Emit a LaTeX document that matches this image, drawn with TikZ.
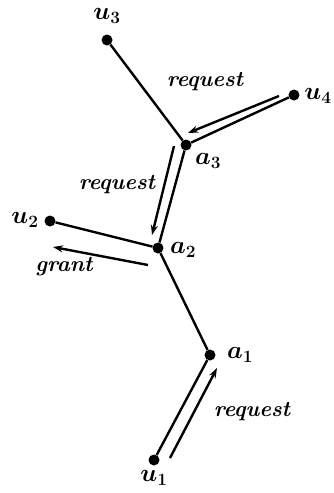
\documentclass[tikz,border=0pt]{standalone}
\usetikzlibrary{arrows.meta}
\begin{document}
\begin{tikzpicture}[x=1pt,y=-1pt,
  dot/.style={circle,fill=black,inner sep=0pt,minimum size=11pt},
  edge/.style={line width=2.4pt},
  msg/.style={line width=2.4pt,-{Stealth[length=10pt,width=7pt]}},
  lbl/.style={font=\fontsize{22}{24}\selectfont\bfseries\itshape},
  vl/.style={font=\fontsize{26}{28}\selectfont\boldmath}]
\useasboundingbox (0,0) rectangle (333,493);
\node[dot] (u3) at (107,40) {};
\node[dot] (u4) at (294,95) {};
\node[dot] (a3) at (186,145) {};
\node[dot] (u2) at (50,221) {};
\node[dot] (a2) at (158,248) {};
\node[dot] (a1) at (210,355) {};
\node[dot] (u1) at (154,460) {};
\draw[edge] (u3) -- (a3);
\draw[edge] (u4) -- (a3);
\draw[edge] (a3) -- (a2);
\draw[edge] (u2) -- (a2);
\draw[edge] (a2) -- (a1);
\draw[edge] (a1) -- (u1);
\node[vl] (lu3) at (107,16) {$u_3$};
\node[vl,inner xsep=0pt] (lu4) at (318,96) {$u_4$};
\node[vl] (la3) at (208,161) {$a_3$};
\node[vl] (lu2) at (25,220) {$u_2$};
\node[vl] (la2) at (183,250) {$a_2$};
\node[vl] (la1) at (240,355) {$a_1$};
\node[vl] (lu1) at (154,478) {$u_1$};
\coordinate (s1) at (279,96); \coordinate (e1) at (188,133);
\coordinate (s2) at (174,146); \coordinate (e2) at (152,235);
\coordinate (s3) at (148,265); \coordinate (e3) at (53,247);
\coordinate (s4) at (170,458); \coordinate (e4) at (217,368);
\draw[msg] (s1) -- (e1);
\draw[msg] (s2) -- (e2);
\draw[msg] (s3) -- (e3);
\draw[msg] (s4) -- (e4);
\node[lbl] (r1) at (205,82) {request};
\node[lbl] (r2) at (117,185) {request};
\node[lbl] (g) at (64,267) {grant};
\node[lbl] (r3) at (252,412) {request};
\end{tikzpicture}
\end{document}
